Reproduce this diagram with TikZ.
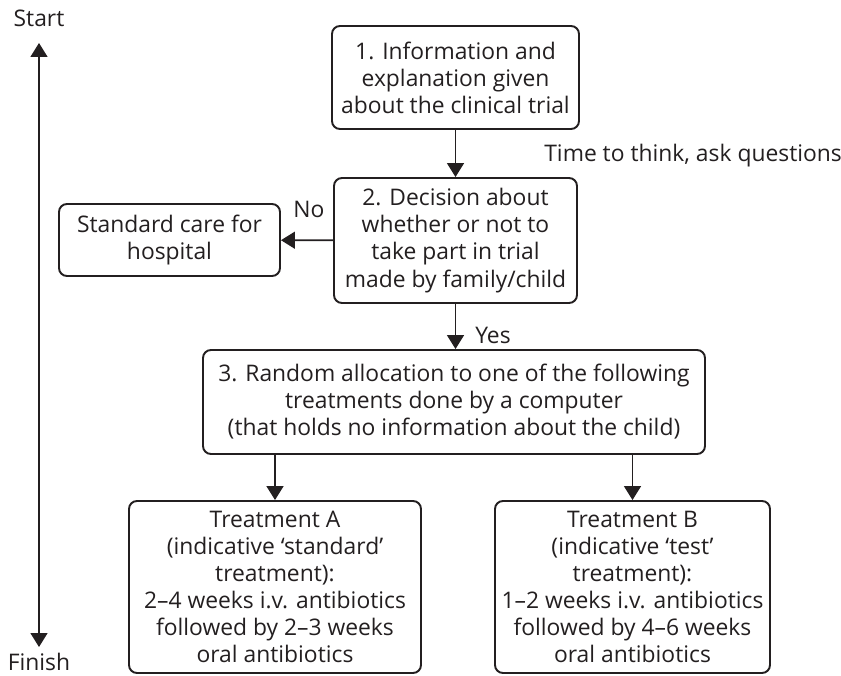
\documentclass[tikz,border=0pt]{standalone}
\usepackage{fontspec}
\setmainfont{Open Sans}
\usetikzlibrary{arrows.meta}
\usetikzlibrary{positioning}
\definecolor{ink}{HTML}{231F20}

\begin{document}
\begin{tikzpicture}[
  every node/.style={text=ink,font=\fontsize{13}{15.4}\selectfont},
  stepbox/.style={draw=ink,line width=1.1pt,rounded corners=0.16cm,align=center,inner sep=0pt},
  flow/.style={draw=ink,line width=0.9pt,-{Triangle[length=0.28cm,width=0.34cm]}}
]
\useasboundingbox (0,0) rectangle (16.82,13.5);

\node[stepbox,minimum width=4.94cm,minimum height=2.06cm] (info) at (9.11,11.95) {1. Information and\\explanation given\\about the clinical trial};
\node[stepbox,minimum width=4.86cm,minimum height=2.5cm] (decide) at (9.11,8.69) {2. Decision about\\whether or not to\\take part in trial\\made by family/child};
\node[stepbox,minimum width=4.42cm,minimum height=1.44cm] (std) at (3.39,8.70) {Standard care for\\hospital};
\node[stepbox,minimum width=10.04cm,minimum height=2.08cm] (rand) at (9.08,5.46) {3. Random allocation to one of the following\\treatments done by a computer\\(that holds no information about the child)};
\node[stepbox,minimum width=5.84cm,minimum height=3.44cm] (trtA) at (5.5,1.76) {Treatment A\\(indicative `standard'\\treatment):\\2--4 weeks i.v. antibiotics\\followed by 2--3 weeks\\oral antibiotics};
\node[stepbox,minimum width=5.5cm,minimum height=3.44cm] (trtB) at (12.65,1.76) {Treatment B\\(indicative `test'\\treatment):\\1--2 weeks i.v. antibiotics\\followed by 4--6 weeks\\oral antibiotics};

\node[anchor=base west,inner sep=0pt] (think) at (10.88,10.26) {Time to think, ask questions};
\node (no) at (6.18,9.32) {No};
\node (yes) at (9.86,6.8) {Yes};

\draw[flow] (info) -- (decide);
\draw[flow] (decide) -- (std);
\draw[flow] (decide.south) -- (decide.south |- rand.north);
\draw[flow] (rand.south -| trtA.north) -- (trtA.north);
\draw[flow] (rand.south -| trtB.north) -- (trtB.north);

% time line
\node (start) at (0.78,13.14) {Start};
\node[anchor=base,inner sep=0pt] (finish) at (0.78,0.1) {Finish};
\coordinate (ttop) at (0.78,12.64);
\coordinate (tbot) at (0.78,0.56);
\draw[flow,{Triangle[length=0.28cm,width=0.34cm]}-{Triangle[length=0.28cm,width=0.34cm]}] (ttop) -- (tbot);

\end{tikzpicture}
\end{document}
